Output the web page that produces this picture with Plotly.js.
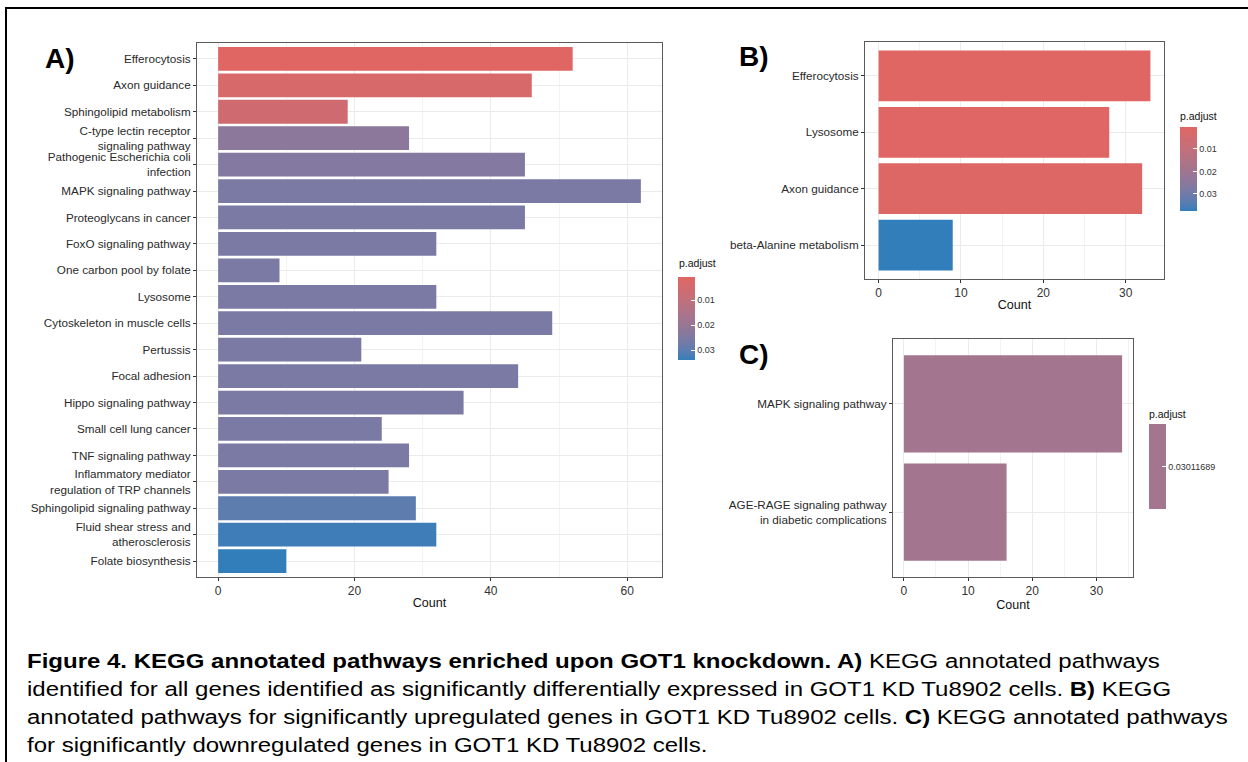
<!DOCTYPE html>
<html>
<head>
<meta charset="utf-8">
<script src="https://cdn.plot.ly/plotly-3.0.1.min.js"></script>
<style>
html,body{margin:0;padding:0;background:#fff;overflow:hidden;}
#wrap{position:relative;width:1248px;height:762px;}
#chart{position:absolute;left:0;top:0;width:1248px;height:762px;}
#caption{position:absolute;left:27px;top:647px;font-family:"Liberation Sans",Arial,sans-serif;font-size:20px;line-height:28px;color:#000;white-space:nowrap;transform:scaleX(1.2);transform-origin:0 0;}
</style>
</head>
<body>
<div id="wrap">
<div id="chart"></div>
<div id="caption"><b>Figure 4. KEGG annotated pathways enriched upon GOT1 knockdown. A)</b> KEGG annotated pathways<br>identified for all genes identified as significantly differentially expressed in GOT1 KD Tu8902 cells. <b>B)</b> KEGG<br>annotated pathways for significantly upregulated genes in GOT1 KD Tu8902 cells. <b>C)</b> KEGG annotated pathways<br>for significantly downregulated genes in GOT1 KD Tu8902 cells.</div>
</div>
<script>
// ---------- DATA ----------
var pathwaysA = ["Efferocytosis", "Axon guidance", "Sphingolipid metabolism",
  "C-type lectin receptor<br>signaling pathway", "Pathogenic Escherichia coli<br>infection",
  "MAPK signaling pathway", "Proteoglycans in cancer", "FoxO signaling pathway",
  "One carbon pool by folate", "Lysosome", "Cytoskeleton in muscle cells", "Pertussis",
  "Focal adhesion", "Hippo signaling pathway", "Small cell lung cancer", "TNF signaling pathway",
  "Inflammatory mediator<br>regulation of TRP channels", "Sphingolipid signaling pathway",
  "Fluid shear stress and<br>atherosclerosis", "Folate biosynthesis"];
var countA = [52, 46, 19, 28, 45, 62, 45, 32, 9, 32, 49, 21, 44, 36, 24, 28, 25, 29, 32, 10];
var padjA = [0.0008, 0.0035, 0.0058, 0.0224, 0.0240, 0.0257, 0.0257, 0.0257, 0.0257, 0.0257,
  0.0257, 0.0257, 0.0257, 0.0257, 0.0257, 0.0257, 0.0257, 0.0300, 0.0330, 0.0340];
var padjRangeA = [0.0008, 0.0340];
var legendTicksA = [0.01, 0.02, 0.03];

var pathwaysB = ["Efferocytosis", "Lysosome", "Axon guidance", "beta-Alanine metabolism"];
var countB = [33, 28, 32, 9];
var padjB = [0.0002, 0.0006, 0.0012, 0.0377];
var padjRangeB = [0.0002, 0.0377];
var legendTicksB = [0.01, 0.02, 0.03];

var pathwaysC = ["MAPK signaling pathway", "AGE-RAGE signaling pathway<br>in diabetic complications"];
var countC = [34, 16];
var padjC = [0.03011689, 0.03011689];
var legendTicksC = [0.03011689];
var legendTickTextC = ["0.03011689"];

// ---------- colour helpers (Lab interpolation like ggplot2) ----------
var lowColor = [224, 102, 99];   // #e06663
var highColor = [50, 126, 186];  // #327eba
function s2l(c){c/=255;return c<=0.04045?c/12.92:Math.pow((c+0.055)/1.055,2.4);}
function l2s(c){var v=c<=0.0031308?12.92*c:1.055*Math.pow(c,1/2.4)-0.055;return Math.round(Math.max(0,Math.min(1,v))*255);}
var Xn=0.95047,Yn=1,Zn=1.08883;
function ff(t){return t>0.008856?Math.cbrt(t):(7.787*t+16/116);}
function fi(t){return t*t*t>0.008856?t*t*t:(t-16/116)/7.787;}
function rgb2lab(c){var r=s2l(c[0]),g=s2l(c[1]),b=s2l(c[2]);
  var X=0.4124*r+0.3576*g+0.1805*b,Y=0.2126*r+0.7152*g+0.0722*b,Z=0.0193*r+0.1192*g+0.9505*b;
  var fx=ff(X/Xn),fy=ff(Y/Yn),fz=ff(Z/Zn);return [116*fy-16,500*(fx-fy),200*(fy-fz)];}
function lab2rgb(L){var fy=(L[0]+16)/116,fx=fy+L[1]/500,fz=fy-L[2]/200;
  var X=Xn*fi(fx),Y=Yn*fi(fy),Z=Zn*fi(fz);
  var r=3.2406*X-1.5372*Y-0.4986*Z,g=-0.9689*X+1.8758*Y+0.0415*Z,b=0.0557*X-0.2040*Y+1.0570*Z;
  return 'rgb('+l2s(r)+','+l2s(g)+','+l2s(b)+')';}
var labLow=rgb2lab(lowColor), labHigh=rgb2lab(highColor);
function mix(t){ // t=0 -> high p (blue), t=1 -> low p (red)
  return lab2rgb([labHigh[0]+(labLow[0]-labHigh[0])*t, labHigh[1]+(labLow[1]-labHigh[1])*t, labHigh[2]+(labLow[2]-labHigh[2])*t]);}
var scale=[];for(var i=0;i<=20;i++){scale.push([i/20,mix(i/20)]);}
var midColor=mix(0.5);
function neg(a){return a.map(function(v){return -v;});}
function fmt(a){return a.map(function(v){return String(v);});}

// ---------- geometry helpers ----------
var W=1248,H=762;
function px(x){return x/W;}
function py(y){return 1-y/H;}
var txtFont={family:'"Liberation Sans", Arial, sans-serif',size:11.7,color:'#2a2a2a'};
var numFont={family:'"Liberation Sans", Arial, sans-serif',size:12,color:'#333333'};
var ttlFont={family:'"Liberation Sans", Arial, sans-serif',size:12.5,color:'#111111'};
var cbFont={family:'"Liberation Sans", Arial, sans-serif',size:9,color:'#333333'};

function cb(xLeft, yTop, yBot, ticks, tickText){
  return {x:px(xLeft),xanchor:'left',y:py((yTop+yBot)/2),yanchor:'middle',
    len:yBot-yTop,lenmode:'pixels',thickness:17,thicknessmode:'pixels',
    xpad:0,ypad:0,outlinewidth:0,tickvals:neg(ticks),ticktext:tickText,
    ticks:'inside',ticklen:4,tickcolor:'#ffffff',tickwidth:1,tickfont:cbFont,
    title:{text:''}};
}

var traces=[
  {type:'bar',orientation:'h',x:countA,y:pathwaysA,xaxis:'x',yaxis:'y',hoverinfo:'skip',
   marker:{color:neg(padjA),colorscale:scale,cmin:-padjRangeA[1],cmax:-padjRangeA[0],showscale:true,
     line:{width:0},colorbar:cb(678,277,360,legendTicksA,fmt(legendTicksA))}},
  {type:'bar',orientation:'h',x:countB,y:pathwaysB,xaxis:'x2',yaxis:'y2',hoverinfo:'skip',
   marker:{color:neg(padjB),colorscale:scale,cmin:-padjRangeB[1],cmax:-padjRangeB[0],showscale:true,
     line:{width:0},colorbar:cb(1180,127,211,legendTicksB,fmt(legendTicksB))}},
  {type:'bar',orientation:'h',x:countC,y:pathwaysC,xaxis:'x3',yaxis:'y3',hoverinfo:'skip',
   marker:{color:neg(padjC),colorscale:[[0,midColor],[1,midColor]],cmin:-padjC[0]-0.001,cmax:-padjC[0]+0.001,showscale:true,
     line:{width:0},colorbar:cb(1149,424,509,legendTicksC,legendTickTextC)}}
];

function xax(dom, rng, dt, anchor){
  return {domain:[px(dom[0]),px(dom[1])],range:rng,autorange:false,anchor:anchor,
    tick0:0,dtick:dt,ticks:'outside',ticklen:3,tickcolor:'#333333',tickwidth:1,
    showline:true,linecolor:'#5a5a5a',linewidth:1,mirror:true,zeroline:false,
    showgrid:true,gridcolor:'#EBEBEB',gridwidth:1,
    minor:{dtick:dt/2,tick0:0,showgrid:true,gridcolor:'#F3F3F3',gridwidth:1,ticks:''},
    tickfont:numFont,title:{text:'Count',font:ttlFont,standoff:0},fixedrange:true};
}
function yax(dom, cats, anchor){
  return {domain:[py(dom[1]),py(dom[0])],type:'category',categoryorder:'array',categoryarray:cats,
    range:[cats.length-0.4,-0.6],autorange:false,anchor:anchor,
    ticks:'outside',ticklen:3,tickcolor:'#333333',tickwidth:1,
    showline:true,linecolor:'#5a5a5a',linewidth:1,mirror:true,zeroline:false,
    showgrid:true,gridcolor:'#EBEBEB',gridwidth:1,tickfont:txtFont,fixedrange:true};
}

function lab(text,x,y,size){return {xref:'paper',yref:'paper',x:px(x),y:py(y),xanchor:'left',yanchor:'middle',
  showarrow:false,text:text,font:{family:'"Liberation Sans", Arial, sans-serif',size:size||28,color:'#000'}};}
function cbt(x,y){return {xref:'paper',yref:'paper',x:px(x),y:py(y),xanchor:'left',yanchor:'middle',
  showarrow:false,text:'p.adjust',font:{family:'"Liberation Sans", Arial, sans-serif',size:10.5,color:'#111'}};}

var layout={
  width:W,height:H,margin:{l:0,r:0,t:0,b:0},paper_bgcolor:'#fff',plot_bgcolor:'#fff',
  showlegend:false,bargap:0.1,
  xaxis:xax([197,662],[-3.1,65.1],20,'y'),
  yaxis:yax([43,577],pathwaysA,'x'),
  xaxis2:xax([865,1164],[-1.65,34.65],10,'y2'),
  yaxis2:yax([42,279],pathwaysB,'x2'),
  xaxis3:xax([893,1133],[-1.7,35.7],10,'y3'),
  yaxis3:yax([339,577],pathwaysC,'x3'),
  annotations:[lab('<b>A)</b>',43,58),lab('<b>B)</b>',737,57),lab('<b>C)</b>',737,354),
    cbt(677,263),cbt(1178,116),cbt(1147,414)],
  shapes:[
    {type:'line',xref:'paper',yref:'paper',x0:px(5),x1:px(1248),y0:py(8),y1:py(8),line:{color:'#000',width:2}},
    {type:'line',xref:'paper',yref:'paper',x0:px(6),x1:px(6),y0:py(7),y1:py(762),line:{color:'#000',width:2}}
  ]
};
Plotly.newPlot('chart',traces,layout,{displayModeBar:false,staticPlot:true});
</script>
</body>
</html>
